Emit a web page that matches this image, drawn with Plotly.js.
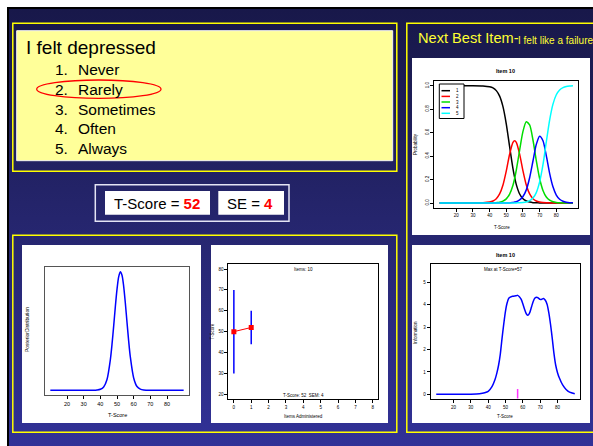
<!DOCTYPE html>
<html><head><meta charset="utf-8">
<script src="https://cdn.plot.ly/plotly-3.0.1.min.js"></script>
<style>
html,body{margin:0;padding:0;background:#fff;width:593px;height:446px;overflow:hidden;}
#bg{position:absolute;left:7px;top:7px;width:600px;height:450px;border-left:2.5px solid #000;border-top:2px solid #000;
background:linear-gradient(to bottom,#18184a 0%,#1d1d56 20%,#262670 50%,#2d2d88 80%,#32329a 100%);}
#chart{position:absolute;left:0;top:0;width:593px;height:446px;}
</style></head><body><div id="bg"></div><div id="chart"></div>
<script>
// ---------- data ----------
const questionText = "I felt depressed";
const optionNums = ["1.", "2.", "3.", "4.", "5."];
const optionLabels = ["Never", "Rarely", "Sometimes", "Often", "Always"];
const tScore = 52;
const seValue = 4;
const nextItemLabel = "I felt like a failure";

// posterior distribution
const postT = [10,20,30,36,38,40,42,44,46,47,48,49,50,51,52,53,54,55,56,57,58,60,62,64,66,70,80,90];
const postY = [0,0,0,0,0.002,0.008,0.028,0.091,0.257,0.387,0.541,0.704,0.851,0.957,1.0,0.971,0.877,0.736,0.574,0.416,0.281,0.104,0.032,0.01,0.003,0,0,0];

// item history
const itemsAdmin = [0, 1];
const histScore = [50, 52];
const histLow = [30, 44];
const histHigh = [70, 60];

// category response curves, item 10
const catT = [10,20,30,36,40,42,44,46,48,50,52,54,55,56,58,60,62,64,66,68,70,72,74,76,78,80,82,84,86,88,90];
const cat1 = [1,1,1,0.998,0.991,0.981,0.958,0.911,0.821,0.673,0.480,0.293,0.218,0.157,0.077,0.036,0.017,0.008,0.003,0.002,0.001,0,0,0,0,0,0,0,0,0,0];
const cat2 = [0,0,0,0.002,0.008,0.017,0.037,0.077,0.153,0.274,0.416,0.517,0.530,0.517,0.416,0.274,0.153,0.077,0.037,0.017,0.008,0.004,0.002,0.001,0,0,0,0,0,0,0];
const cat3 = [0,0,0,0,0,0,0.003,0.007,0.016,0.035,0.075,0.151,0.209,0.280,0.451,0.611,0.692,0.665,0.537,0.362,0.209,0.107,0.051,0.024,0.011,0.005,0.002,0.001,0,0,0];
const cat4 = [0,0,0,0,0,0,0,0,0,0,0,0.005,0.008,0.011,0.026,0.055,0.112,0.215,0.358,0.500,0.570,0.531,0.404,0.253,0.138,0.068,0.032,0.015,0.007,0.003,0.002];
const cat5 = [0,0,0,0,0,0,0,0,0,0,0,0,0,0.001,0.002,0.004,0.009,0.020,0.042,0.089,0.180,0.327,0.520,0.707,0.843,0.923,0.964,0.983,0.993,0.997,0.999];
const catNames = ["1","2","3","4","5"];

// information function, item 10
const infoT = [10,20,30,35,38,40,42,44,45,46,47,48,49,50,51,52,54,56,57,58,59,60,61,62,63,64,65,66,67,68,69,70,71,72,73,74,75,76,77,78,79,80,81,83,85,87,90];
const infoY = [0,0,0.01,0.03,0.07,0.13,0.32,0.68,0.95,1.3,1.8,2.5,3.15,3.72,4.1,4.3,4.38,4.4,4.42,4.36,4.25,4.05,3.8,3.6,3.53,3.65,3.9,4.15,4.3,4.34,4.3,4.24,4.25,4.28,4.2,4.02,3.65,3.13,2.5,1.82,1.3,0.98,0.75,0.42,0.22,0.1,0.03];
const maxInfoT = [57, 57];
const maxRug = [-0.18, 0.24];

const tTicks = [20,30,40,50,60,70,80];
const itemTicks = [0,1,2,3,4,5,6,7,8];
const histTicks = [20,30,40,50,60,70,80];
const probTicks = [0,0.2,0.4,0.6,0.8,1.0];
const probTickText = ["0.0","0.2","0.4","0.6","0.8","1.0"];
const infoTicks = [0,1,2,3,4,5];

// ---------- helpers ----------
const W = 593, H = 446;
const px = x => x / W;
const py = y => 1 - y / H;
const FONT = 'Arial, "Liberation Sans", Helvetica, sans-serif';

function ann(text, x, y, o) {
  o = o || {};
  return Object.assign({
    text: text, x: px(x), y: py(y), xref: 'paper', yref: 'paper', showarrow: false,
    xanchor: o.xa || 'center', yanchor: o.ya || 'middle',
    font: {family: FONT, size: o.size || 5, color: o.color || '#000'},
    textangle: o.angle || 0
  }, o.extra || {});
}
function rect(x0, y0, x1, y1, o) {
  return {type: o.type || 'rect', xref: 'paper', yref: 'paper', x0: px(x0), x1: px(x1), y0: py(y1), y1: py(y0),
    fillcolor: o.fill || 'rgba(0,0,0,0)', line: {color: o.line || 'rgba(0,0,0,0)', width: o.lw || 0}, layer: o.layer || 'below'};
}
function seg(x0, y0, x1, y1, color, w) {
  return {type: 'line', xref: 'paper', yref: 'paper', x0: px(x0), x1: px(x1), y0: py(y0), y1: py(y1),
    line: {color: color, width: w}, layer: 'above'};
}

function axisX(domain, range, tickvals, anchor, o) {
  o = o || {};
  return {domain: domain, range: range, tickvals: tickvals, ticktext: o.ticktext, ticks: 'outside', ticklen: 3, tickwidth: 1,
    tickcolor: '#000', tickfont: {family: FONT, size: o.fs || 5, color: '#000'}, showline: true, mirror: true,
    linecolor: o.lc || '#000', linewidth: 1, showgrid: false, zeroline: false, anchor: anchor, fixedrange: true};
}
function axisY(domain, range, tickvals, anchor, o) {
  o = o || {};
  return {domain: domain, range: range, tickvals: tickvals, ticktext: o.ticktext, ticks: o.noticks ? '' : 'outside', ticklen: 3, tickwidth: 1,
    showticklabels: !o.noticks, tickangle: o.angle === undefined ? -90 : o.angle,
    tickcolor: '#000', tickfont: {family: FONT, size: o.fs || 5, color: '#000'}, showline: true, mirror: true,
    linecolor: o.lc || '#000', linewidth: 1, showgrid: false, zeroline: false, anchor: anchor, fixedrange: true};
}

// ---------- traces ----------
const traces = [];
traces.push({x: postT, y: postY, xaxis: 'x', yaxis: 'y', mode: 'lines', line: {color: '#0000ff', width: 1.5, shape: 'spline', smoothing: 0.8}, hoverinfo: 'skip'});

const barX = [], barY = [];
itemsAdmin.forEach((v, i) => { barX.push(v, v, null); barY.push(histLow[i], histHigh[i], null); });
traces.push({x: barX, y: barY, xaxis: 'x2', yaxis: 'y2', mode: 'lines', line: {color: '#0000ff', width: 1.5}, hoverinfo: 'skip'});
traces.push({x: itemsAdmin, y: histScore, xaxis: 'x2', yaxis: 'y2', mode: 'lines+markers', line: {color: '#ff0000', width: 1},
  marker: {symbol: 'square', size: 5, color: '#ff0000'}, hoverinfo: 'skip'});

const catSeries = [cat1, cat2, cat3, cat4, cat5];
const catColors = ['#000000', '#ff0000', '#00dd00', '#0000ff', '#00ffff'];
catSeries.forEach((s, i) => traces.push({x: catT, y: s, name: catNames[i], xaxis: 'x3', yaxis: 'y3', mode: 'lines',
  line: {color: catColors[i], width: 1.5, shape: 'spline', smoothing: 0.7}, hoverinfo: 'skip'}));

traces.push({x: infoT, y: infoY, xaxis: 'x4', yaxis: 'y4', mode: 'lines', line: {color: '#0000ff', width: 1.5, shape: 'spline', smoothing: 0.7}, hoverinfo: 'skip'});
traces.push({x: maxInfoT, y: maxRug, xaxis: 'x4', yaxis: 'y4', mode: 'lines', line: {color: '#ff33ff', width: 1.5}, hoverinfo: 'skip'});

// ---------- shapes ----------
const shapes = [
  rect(12.8, 23.3, 396.8, 171.3, {line: '#ffff00', lw: 1.5}),
  rect(16.7, 30.7, 392.7, 160.7, {fill: '#ffff99', line: '#f4f4f4', lw: 1}),
  rect(95.3, 184.7, 289, 221.3, {line: '#e4e4f4', lw: 1.5}),
  rect(105, 191, 210, 214.7, {fill: '#ffffff'}),
  rect(218.3, 191, 284, 214.7, {fill: '#ffffff'}),
  rect(12.8, 235.3, 396.8, 432.3, {line: '#ffff00', lw: 1.5}),
  rect(22, 245, 201, 423, {fill: '#ffffff'}),
  rect(211, 245, 388, 423, {fill: '#ffffff'}),
  rect(406.8, 23.3, 600, 432.3, {line: '#ffff00', lw: 1.5}),
  rect(412, 58, 590, 235, {fill: '#ffffff'}),
  rect(412, 245, 590, 423, {fill: '#ffffff'}),
  rect(36.7, 80, 161, 98.3, {type: 'circle', line: '#ff0000', lw: 1.3, layer: 'above'}),
  // legend box in item plot
  rect(439.3, 84, 464, 118.5, {fill: '#ffffff', line: '#000', lw: 1, layer: 'above'})
];
const legY = [90.7, 96.4, 102, 107.7, 113.3];
catColors.forEach((c, i) => shapes.push(seg(441.5, legY[i], 450, legY[i], c, 1.5)));

// ---------- annotations ----------
const annotations = [
  ann(questionText, 24, 48, {xa: 'left', size: 19}),
];
const optY = [69.3, 89.2, 109, 128.7, 148.3];
optionNums.forEach((n, i) => {
  annotations.push(ann(n, 53, optY[i], {xa: 'left', size: 15.5}));
  annotations.push(ann(optionLabels[i], 76, optY[i], {xa: 'left', size: 15.5}));
});
annotations.push(ann('T-Score = <b><span style="color:#ff0000">' + tScore + '</span></b>', 111.5, 203, {xa: 'left', size: 15}));
annotations.push(ann('SE = <b><span style="color:#ff0000">' + seValue + '</span></b>', 225, 203, {xa: 'left', size: 15}));
annotations.push(ann('Next Best Item-', 416, 38.3, {xa: 'left', size: 14.6, color: '#ffff33'}));
annotations.push(ann(nextItemLabel, 515.5, 40.3, {xa: 'left', size: 10, color: '#ffff33'}));

// plot A
annotations.push(ann('PosteriorDistribution', 27, 330, {angle: -90, size: 5}));
annotations.push(ann('T-Score', 117, 415, {size: 5.5}));
// plot B
annotations.push(ann('Items: 10', 303.3, 269.5, {size: 4.5}));
annotations.push(ann('T-Score: 52  SEM: 4', 303, 395, {size: 4.5}));
annotations.push(ann('T-Score', 212.8, 331.7, {angle: -90, size: 4.5}));
annotations.push(ann('Items Administered', 303, 416, {size: 4.5}));
// plot C
annotations.push(ann('<b>Item 10</b>', 505, 70.7, {size: 5.5}));
annotations.push(ann('Probability', 415, 144, {angle: -90, size: 4.5}));
annotations.push(ann('T-Score', 502, 227.3, {size: 4.5}));
catNames.forEach((n, i) => annotations.push(ann(n, 457.3, legY[i], {size: 4.5})));
// plot D
annotations.push(ann('<b>Item 10</b>', 505, 255, {size: 5.5}));
annotations.push(ann('Max at T-Score=57', 503.3, 269.5, {size: 4.5}));
annotations.push(ann('Information', 415, 333, {angle: -90, size: 4.5}));
annotations.push(ann('T-Score', 505, 416.7, {size: 4.5}));

const layout = {
  width: W, height: H, margin: {l: 0, r: 0, t: 0, b: 0},
  paper_bgcolor: 'rgba(0,0,0,0)', plot_bgcolor: '#ffffff',
  showlegend: false, font: {family: FONT},
  xaxis: axisX([px(45), px(189)], [6.8, 93.2], tTicks, 'y', {lc: '#555', fs: 5.5}),
  yaxis: axisY([py(395), py(267)], [-0.04, 1.04], [], 'x', {noticks: true, lc: '#555'}),
  xaxis2: axisX([px(228.3), px(378.3)], [-0.32, 8.32], itemTicks, 'y2', {fs: 4.5}),
  yaxis2: axisY([py(399.3), py(264)], [17.6, 82.4], histTicks, 'x2', {fs: 4.5, angle: 0}),
  xaxis3: axisX([px(434.3), px(578.3)], [6.8, 93.2], tTicks, 'y3', {fs: 4.5}),
  yaxis3: axisY([py(207.7), py(81)], [-0.04, 1.04], probTicks, 'x3', {fs: 4.5, ticktext: probTickText}),
  xaxis4: axisX([px(430.7), px(580.3)], [6.8, 93.2], tTicks, 'y4', {fs: 4.5}),
  yaxis4: axisY([py(399.3), py(264)], [-0.22, 5.82], infoTicks, 'x4', {fs: 4.5, angle: 0}),
  shapes: shapes, annotations: annotations
};

Plotly.newPlot('chart', traces, layout, {displayModeBar: false, staticPlot: true});
</script></body></html>
